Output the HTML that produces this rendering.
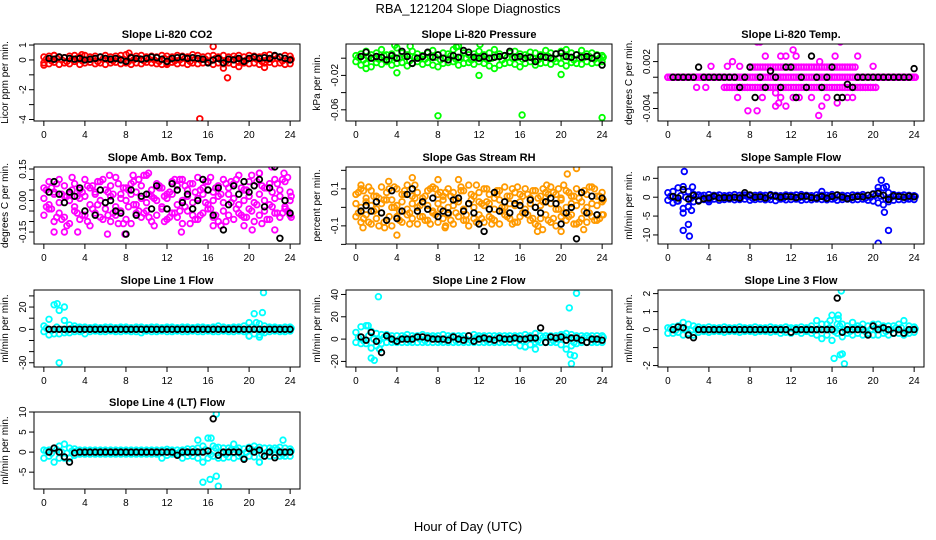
<!DOCTYPE html>
<html><head><meta charset="utf-8">
<style>
html,body{margin:0;padding:0;background:#fff;}
svg{display:block;font-family:"Liberation Sans",sans-serif;}
</style></head>
<body>
<svg id="chart" width="936" height="540" viewBox="0 0 936 540">
<text x="468" y="13" text-anchor="middle" font-size="13">RBA_121204  Slope Diagnostics</text>
<text x="468" y="531" text-anchor="middle" font-size="13">Hour of Day (UTC)</text>
<g id="panels"></g>
</svg>
<script>
const hours49=[0,0.5,1,1.5,2,2.5,3,3.5,4,4.5,5,5.5,6,6.5,7,7.5,8,8.5,9,9.5,10,10.5,11,11.5,12,12.5,13,13.5,14,14.5,15,15.5,16,16.5,17,17.5,18,18.5,19,19.5,20,20.5,21,21.5,22,22.5,23,23.5,24];
const hoursOff=[0.25,0.75,1.25,1.75,2.25,2.75,3.25,3.75,4.25,4.75,5.25,5.75,6.25,6.75,7.25,7.75,8.25,8.75,9.25,9.75,10.25,10.75,11.25,11.75,12.25,12.75,13.25,13.75,14.25,14.75,15.25,15.75,16.25,16.75,17.25,17.75,18.25,18.75,19.25,19.75,20.25,20.75,21.25,21.75,22.25,22.75,23.25,23.75,24.1];
const hoursBlack=[0.5,1,1.5,2,2.5,3,3.5,4,4.5,5,5.5,6,6.5,7,7.5,8,8.5,9,9.5,10,10.5,11,11.5,12,12.5,13,13.5,14,14.5,15,15.5,16,16.5,17,17.5,18,18.5,19,19.5,20,20.5,21,21.5,22,22.5,23,23.5,24];
const xTicks=[0,4,8,12,16,20,24];

// Panel 1 CO2
const co2A=[0.2,0.25,0.3,0.2,0.15,0.25,0.3,0.2,0.3,0.2,0.25,0.2,0.3,0.2,0.25,0.3,0.35,0.2,0.25,0.3,0.2,0.25,0.2,0.3,0.25,0.2,0.3,0.25,0.2,0.35,0.3,0.2,0.25,0.3,0.2,0.3,0.2,0.25,0.3,0.2,0.3,0.25,0.2,0.3,0.35,0.25,0.2,0.3,0.25];
const co2B=[-0.2,-0.25,-0.15,-0.3,-0.2,-0.25,-0.1,-0.3,-0.2,-0.15,-0.25,-0.2,-0.3,-0.2,-0.15,-0.25,-0.2,-0.3,-0.2,-0.25,-0.15,-0.2,-0.25,-0.3,-0.2,-0.15,-0.25,-0.2,-0.3,-0.2,-0.25,-0.2,-0.15,-0.3,-0.2,-0.25,-0.2,-0.3,-0.15,-0.2,-0.25,-0.2,-0.3,-0.2,-0.15,-0.25,-0.2,-0.3,-0.25];
const co2C=[0.05,-0.05,0.1,0,-0.1,0.05,0.1,-0.05,0,0.1,-0.1,0.05,0,-0.05,0.1,0.05,-0.1,0,0.1,-0.05,0.05,0,-0.1,0.1,0.05,-0.05,0,0.1,-0.1,0.05,0,0.05,-0.05,0.1,0,-0.1,0.05,0.1,-0.05,0,0.1,0.05,-0.1,0,0.05,0.1,-0.05,0,0.05];
const co2OutX=[0,1,3.7,8.3,12,15.2,16.5,17.5,17.9,19,21.5];
const co2OutY=[-0.35,0.3,0.35,0.45,-0.3,-3.95,0.9,-0.55,-1.2,-0.45,-0.5];
const co2K=[0.1,0.05,0.2,0.15,0.1,0.05,0.1,0.0,0.05,0.1,0.2,0.1,0.05,0.1,0.0,-0.1,0.15,0.1,0.05,0.1,0.2,0.15,0.05,-0.1,0.1,0.15,0.2,0.1,0.15,0.1,0.05,-0.2,0.0,0.1,-0.2,0.05,0.0,0.1,-0.1,0.1,0.2,0.1,0.15,0.1,0.3,0.2,0.1,0.0];
const co2Ticks=[1,0,-1,-2,-3,-4];
const co2TickLabels=["1","0","","-2","","-4"];

// Panel 2 Pressure
const presA=[0.003,0.005,0.008,0.004,0.006,0.01,0.004,0.005,0.012,0.006,0.004,0.008,0.005,0.003,0.006,0.009,0.004,0.006,0.005,0.01,0.014,0.006,0.004,0.005,0.008,0.004,0.006,0.01,0.005,0.003,0.006,0.008,0.005,0.004,0.007,0.006,0.004,0.009,0.006,0.005,0.008,0.01,0.006,0.004,0.009,0.005,0.006,0.004,0.003];
const presB=[-0.004,-0.008,-0.006,-0.01,-0.005,-0.007,-0.004,-0.008,-0.006,-0.005,-0.009,-0.006,-0.004,-0.007,-0.005,-0.008,-0.01,-0.006,-0.005,-0.004,-0.008,-0.006,-0.005,-0.007,-0.004,-0.006,-0.009,-0.012,-0.008,-0.006,-0.005,-0.007,-0.01,-0.006,-0.004,-0.008,-0.006,-0.005,-0.007,-0.004,-0.006,-0.009,-0.005,-0.006,-0.007,-0.004,-0.006,-0.005,-0.004];
const presC=[0.001,-0.002,0.002,0,-0.001,0.003,-0.002,0.001,0,0.002,-0.003,0.001,0,-0.001,0.002,0.001,-0.002,0,0.003,-0.001,0.001,0,-0.002,0.002,0.001,-0.001,0,0.002,-0.002,0.001,0,0.001,-0.001,0.002,0,-0.002,0.001,0.002,-0.001,0,0.002,0.001,-0.002,0,0.001,0.002,-0.001,0,0.001];
const presOutX=[4,8,12,16.2,20,24,1,3.8,5.3,9.8,12.1];
const presOutY=[-0.017,-0.067,-0.02,-0.066,-0.019,-0.069,-0.012,0.015,0.014,0.013,0.016];
const presK=[0.002,0.007,0.0,0.002,0.001,-0.002,0.003,0.0,0.008,0.002,-0.006,0.0,0.002,0.007,0.001,0.004,0.0,-0.002,0.003,0.001,0.009,0.007,0.001,0.0,0.002,0.0,0.001,0.002,0.003,0.008,0.001,0.002,0.0,0.001,-0.004,0.002,0.001,0.0,0.005,0.006,0.002,0.001,0.004,0.001,0.002,0.0,0.003,-0.008];
const presTicks=[0,-0.02,-0.04,-0.06];
const presTickLabels=["","-0.02","","-0.06"];

// Panel 3 Temp
const tempA=[0,0,0,0,0,0,0,0,0,0,0,0,0,0,0,0,0,0,0,0,0,0,0,0,0,0,0,0,0,0,0,0,0,0,0,0,0,0,0,0,0,0,0,0,0,0,0,0,0];
const tempB=[0,0,0,0,0,0,0,0,0,0,0,-0.0013,-0.0013,-0.0013,-0.0013,-0.0013,0.0013,0.0013,0.0013,0.0013,0.0013,0.0013,0.0013,0.0013,0.0013,0.0013,0.0013,0.0013,0.0013,0.0013,0.0013,0.0013,0.0013,0.0013,0.0013,0.0013,0.0013,-0.0013,-0.0013,-0.0013,-0.0013,0,0,0,0,0,0,0,0];
const tempC=[0,0,0,0,0,0,0,0,0,0,0,-0.0013,-0.0013,-0.0013,-0.0013,-0.0013,-0.0013,-0.0013,-0.0013,-0.0013,-0.0013,-0.0013,-0.0013,-0.0013,-0.0013,-0.0013,-0.0013,-0.0013,-0.0013,-0.0013,-0.0013,-0.0013,-0.0013,-0.0013,-0.0013,-0.0013,-0.0013,-0.0013,-0.0013,-0.0013,-0.0013,0,0,0,0,0,0,0,0];
const tempD=[0,0,0,0,0,0,0,0,0,0,0,0,0,0,0,0,0.0013,0.0013,0.0013,0.0013,0.0013,0.0013,0.0013,0.0013,0.0013,0.0013,0.0013,0.0013,0.0013,0.0013,0.0013,0.0013,0.0013,0.0013,0.0013,0.0013,0.0013,0,0,0,0,0,0,0,0,0,0,0,0];
const tempOutX=[8.7,9,16.8,12.2,9.5,11,11.5,12.5,14.8,16.3,18.5,6.3,4.2,5.8,7,20,3.7,2.8,6.8,9.2,11,12.8,14,15.5,17.5,18,10.8,12.2,7.8,8.7,10.5,11.5,14.7,15,16.5,10.5];
const tempOutY=[0.0045,0.0045,0.0045,0.0035,0.0027,0.0027,0.0027,0.0027,0.002,0.0027,0.0027,0.002,0.0014,0.0014,0.0014,0.0014,-0.0013,-0.0013,-0.0026,-0.0026,-0.0026,-0.0026,-0.0026,-0.0026,-0.0026,-0.0026,-0.0033,-0.0026,-0.0043,-0.0043,-0.0037,-0.0037,-0.0049,-0.0037,-0.0033,-0.002];
const tempK=[0,0,0,0,0,0.0013,0,0,0,0,0,0,0,-0.0013,0,0.0013,-0.0026,0,-0.0013,0.0008,0,-0.0013,0.0013,0.0013,-0.0026,0,-0.0013,0.0027,0,-0.0013,0,0.0013,-0.0026,-0.0026,-0.0009,-0.0013,0,0,0,0,0,0,0,0,0,0,0,0.0011];
const tempTicks=[0.002,0,-0.002,-0.004];
const tempTickLabels=["0.002","","","-0.004"];

// Panel 4 Amb box temp
const ambA=[0.06,0.09,0.04,0.1,0.07,0.03,0.08,0.05,0.1,0.06,0.04,0.09,0.05,0.07,0.11,0.03,0.06,0.08,0.04,0.07,0.12,0.05,0.08,0.06,0.03,0.09,0.07,0.1,0.05,0.08,0.11,0.06,0.09,0.04,0.07,0.1,0.06,0.08,0.12,0.05,0.09,0.07,0.13,0.06,0.08,0.1,0.05,0.09,0.04];
const ambB=[-0.07,-0.04,-0.1,-0.06,-0.08,-0.11,-0.05,-0.09,-0.07,-0.12,-0.06,-0.08,-0.04,-0.1,-0.07,-0.05,-0.09,-0.11,-0.06,-0.08,-0.05,-0.1,-0.07,-0.04,-0.09,-0.06,-0.08,-0.11,-0.05,-0.07,-0.09,-0.06,-0.04,-0.08,-0.1,-0.05,-0.07,-0.09,-0.06,-0.08,-0.04,-0.1,-0.07,-0.05,-0.09,-0.06,-0.08,-0.04,-0.07];
const ambC=[0.01,-0.02,0.03,-0.01,0.02,0,-0.03,0.01,0.02,-0.02,0.03,0,-0.01,0.02,-0.03,0.01,0,0.03,-0.02,0.01,-0.01,0.02,0,-0.03,0.01,0.03,-0.02,0,0.02,-0.01,0.01,0.03,-0.02,0,0.02,-0.01,0.03,0.01,-0.02,0,0.02,-0.01,0.03,0,-0.02,0.01,0.02,-0.03,0];
const ambD=[0.05,-0.04,0.08,-0.09,0.02,0.11,-0.06,0.04,-0.1,0.07,-0.02,0.1,-0.07,0.03,-0.11,0.06,-0.03,0.09,-0.05,0.12,-0.08,0.01,0.07,-0.1,0.04,-0.06,0.1,-0.03,0.08,-0.09,0.05,-0.01,0.11,-0.07,0.03,-0.1,0.09,-0.04,0.06,-0.08,0.12,-0.02,0.07,-0.09,0.04,-0.06,0.1,-0.05,0.02];
const ambE=[-0.03,0.06,-0.08,0.03,-0.12,0.05,0.02,-0.07,0.07,-0.04,0.09,-0.09,0.04,-0.06,0.08,-0.11,0.05,-0.02,0.1,-0.06,0.03,-0.12,0.06,0.02,-0.08,0.1,-0.05,0.07,-0.11,0.04,-0.07,0.09,-0.04,0.06,-0.12,0.08,-0.01,0.1,-0.07,0.05,-0.05,0.09,-0.11,0.06,-0.03,0.08,-0.06,0.11,-0.08];
const ambOutX=[22.2,21,23.4,10.2,8.7,6.4,7.9,1,2,3.3,6.2,13.4,20.3,22.5,19.5,16.5];
const ambOutY=[0.16,0.13,0.13,0.13,0.12,0.12,-0.16,-0.15,-0.15,-0.15,-0.16,-0.15,-0.14,-0.14,-0.12,-0.12];
const ambK=[0.04,0.09,0.03,-0.01,0.04,0.02,0.06,-0.05,0.18,-0.07,0.05,-0.01,0.0,-0.05,-0.06,-0.16,0.05,-0.07,0.02,0.03,-0.04,0.07,0.21,-0.04,0.08,0.05,-0.01,0.03,-0.04,0.0,0.1,0.05,-0.07,0.06,-0.14,-0.02,0.07,0.03,0.09,0.04,0.07,0.1,-0.03,0.06,0.16,-0.18,0.0,-0.06];
const ambTicks=[0.15,0.1,0.05,0,-0.05,-0.1,-0.15];
const ambTickLabels=["0.15","","","0.00","","","-0.15"];

// Panel 5 RH
const rhA=[0.07,0.1,0.05,0.09,0.06,0.11,0.08,0.04,0.1,0.07,0.12,0.06,0.08,0.05,0.09,0.11,0.07,0.06,0.1,0.08,0.05,0.09,0.12,0.06,0.08,0.1,0.07,0.05,0.09,0.11,0.06,0.08,0.07,0.1,0.05,0.09,0.06,0.08,0.11,0.07,0.05,0.09,0.06,0.1,0.08,0.07,0.11,0.06,0.08];
const rhB=[-0.05,-0.08,-0.04,-0.09,-0.06,-0.03,-0.07,-0.1,-0.05,-0.08,-0.04,-0.06,-0.09,-0.05,-0.07,-0.03,-0.08,-0.06,-0.04,-0.09,-0.05,-0.07,-0.1,-0.06,-0.04,-0.08,-0.05,-0.07,-0.09,-0.04,-0.06,-0.08,-0.05,-0.03,-0.07,-0.09,-0.06,-0.04,-0.08,-0.1,-0.05,-0.07,-0.04,-0.09,-0.06,-0.08,-0.05,-0.07,-0.04];
const rhC=[0.02,0,0.03,0.01,-0.01,0.02,0.04,0,0.01,0.03,-0.01,0.02,0,0.03,0.01,-0.02,0.02,0.04,0,0.01,0.03,-0.01,0.02,0,0.03,0.01,0.02,-0.01,0.04,0,0.02,0.01,0.03,-0.01,0.02,0,0.01,0.03,0.02,-0.01,0.04,0,0.02,0.01,0.03,0,0.02,0.01,0.03];
const rhD=[0.08,-0.06,0.11,-0.02,0.05,-0.08,0.1,0.0,-0.07,0.09,-0.03,0.12,-0.05,0.06,-0.09,0.1,-0.01,0.08,-0.07,0.04,0.11,-0.04,0.07,-0.08,0.02,0.1,-0.06,0.09,-0.02,0.06,-0.09,0.11,-0.03,0.07,-0.06,0.05,0.1,-0.07,0.08,-0.01,0.12,-0.05,0.06,-0.08,0.09,-0.03,0.1,-0.06,0.04];
const rhE=[-0.03,0.09,-0.08,0.06,-0.1,0.04,-0.05,0.11,-0.02,0.07,-0.09,0.05,0.01,-0.07,0.1,-0.04,0.08,-0.1,0.06,-0.03,0.09,-0.07,0.04,0.12,-0.06,0.03,-0.09,0.07,0.0,-0.05,0.1,-0.08,0.06,-0.04,0.09,-0.1,0.03,0.07,-0.06,0.1,-0.03,0.08,-0.09,0.05,-0.02,0.11,-0.07,0.06,-0.04];
const rhOutX=[0.5,3.2,5.5,8,10,21.5,20.6,18.6,4,0.7,2.8,8.7,17.7,18.2,20,22.2];
const rhOutY=[0.12,0.14,0.16,0.15,0.15,0.21,0.18,0.12,-0.15,-0.11,-0.11,-0.11,-0.13,-0.12,-0.13,-0.12];
const rhK=[-0.02,0.01,-0.02,0.03,-0.03,-0.07,0.09,-0.06,-0.02,0.07,0.1,-0.02,0.03,-0.01,0.05,-0.05,-0.02,-0.03,0.04,0.05,-0.02,0.02,-0.03,-0.09,-0.13,-0.01,0.08,-0.02,0.03,-0.03,0.02,0.01,-0.03,0.04,0.0,-0.03,0.03,0.05,0.02,-0.09,-0.03,0.0,-0.17,0.08,-0.03,0.06,-0.04,0.05];
const rhTicks=[0.2,0.1,0,-0.1,-0.2];
const rhTickLabels=["","0.1","","-0.1",""];

// Panel 6 Sample flow
const sfA=[1.2,1.5,2.5,2.8,1.5,0.8,0.6,0.5,0.7,0.5,0.6,0.4,0.5,0.7,0.5,0.6,0.4,0.5,0.6,0.5,0.7,0.5,0.4,0.6,0.5,0.6,0.7,0.5,0.4,0.6,0.5,0.5,0.7,0.6,0.5,0.4,0.6,0.5,0.7,0.5,0.9,1.5,2.5,1.2,0.7,0.5,0.6,0.5,0.4];
const sfB=[-0.8,-1.5,-1,-3,-2.5,-1.2,-0.8,-0.6,-0.7,-0.5,-0.8,-0.6,-0.5,-0.7,-0.6,-0.5,-0.8,-0.6,-0.5,-0.7,-0.6,-0.9,-0.5,-0.7,-0.6,-0.5,-0.8,-0.6,-0.7,-0.5,-0.6,-0.7,-0.5,-0.8,-0.6,-0.5,-0.7,-0.6,-0.5,-0.8,-1,-1.5,-2,-1.2,-0.8,-0.6,-0.7,-0.5,-0.6];
const sfC=[0.2,-0.2,0.4,0,-0.3,0.2,0.3,-0.2,0,0.3,-0.3,0.2,0,-0.2,0.3,0.2,-0.3,0,0.3,-0.2,0.2,0,-0.3,0.3,0.2,-0.2,0,0.3,-0.3,0.2,0,0.2,-0.2,0.3,0,-0.3,0.2,0.3,-0.2,0,0.5,0.3,-0.5,0,0.2,0.3,-0.2,0,0.2];
const sfOutX=[1.5,2,2.1,1.6,1.5,2,2.3,2.4,0.9,20.5,21.5,20.8,20.5,21.3,21.1,15,4];
const sfOutY=[-8.8,-7.2,-10.3,6.8,-4.2,-2.5,-3.5,2.7,-1,-12.2,-8.8,4.5,2.6,2.8,-4,1.5,-1.2];
const sfK=[0.2,-0.2,2,-0.5,0.5,-1,-0.4,-0.2,0.3,-0.2,-0.1,-0.2,0,-0.2,1.2,0.6,0,0.1,-0.2,0.5,0.3,0,0.2,0.1,-0.1,0.2,0.3,-0.1,-0.2,0.2,-0.3,0.2,0.6,0,-0.4,0,0.2,0.1,0.5,0.8,1,0.5,-0.6,0.4,0.2,0,0.3,0.1];
const sfTicks=[5,0,-5,-10];
const sfTickLabels=["5","0","-5","-10"];

// Panel 7 Line 1
const l1A=[3,9,22,17,8,4,3,2,2,1.5,2,1.5,2,2,1.5,2,2,1.5,2,2,1.5,2,2,1.5,2,2,1.5,2,2,1.5,2,2,1.5,2,3,2,1.5,2,2,3,6,14,5,3,2,2,1.5,2,2];
const l1B=[-2,-5,-4,-4,-3,-3,-2,-2,-4,-2,-1.5,-2,-2,-1.5,-2,-2,-1.5,-2,-2,-3,-1.5,-2,-2,-1.5,-2,-2,-1.5,-2,-2,-1.5,-2,-2,-1.5,-2,-2,-1.5,-2,-2,-1.5,-2,-6,-4,-5,-3,-2,-1.5,-2,-2,-1.5];
const l1C=[1,-1,2,0,-1,1,1,-1,0,1,-1,1,0,-1,1,1,-1,0,1,-1,1,0,-1,1,1,-1,0,1,-1,1,0,1,-1,1,0,-1,1,1,-1,0,2,1,-2,0,1,1,-1,0,1];
const l1OutX=[1.5,1.3,2.0,21.4,21.3,20.7,20,21];
const l1OutY=[-30,23,20,33,15,6,-6,-7];
const l1K=[0,0,0,0,0,0,0,0,0,0,0,0,0,0,0,0,0,0,0,0,0,0,0,0,0,0,0,0,0,0,0,0,0,0,0,0,0,0,0,0,0,0,0,0,0,0,0,0];
const l1Ticks=[30,20,10,0,-10,-20,-30];
const l1TickLabels=["","20","","0","","","-30"];

// Panel 8 Line 2
const l2A=[6,11,12,7,5,4,4,3,3,3,4,3,3,4,3,3,3,4,3,3,3,3,3,4,3,3,3,3,3,3,3,3,3,4,3,5,3,3,3,3,4,5,4,3,3,3,3,3,3];
const l2B=[-3,-4,-4,-8,-6,-4,-3,-3,-3,-3,-3,-3,-3,-3,-3,-3,-3,-3,-3,-3,-3,-3,-3,-3,-3,-3,-3,-3,-3,-3,-3,-3,-6,-7,-5,-3,-3,-3,-3,-3,-5,-9,-6,-4,-3,-3,-3,-3,-3];
const l2C=[1.5,-1.5,3,0,-1.5,1.5,1.5,-1.5,0,1.5,-1.5,1.5,0,-1.5,1.5,1.5,-1.5,0,1.5,-1.5,1.5,0,-1.5,1.5,1.5,-1.5,0,1.5,-1.5,1.5,0,1.5,-1.5,1.5,0,-1.5,1.5,1.5,-1.5,0,3,1.5,-3,0,1.5,1.5,-1.5,0,1.5];
const l2OutX=[2.2,1.5,1.8,20.8,21.5,20.9,21.3,21,2.3,16.5,17.5,1.2];
const l2OutY=[38,-17,-19,28,41,-14,-15,-22,-9,-7,-9,12];
const l2K=[2,-1,6,-2,-12,3,0,-2,0,0,0,2,2,1,0,0,0,-1,2,0,-1,3,-2,0,1,0,-1,1,0,0,1,0,0,1,1,10,-3,2,1,2,-1,1,1,-1,-3,0,0,-1];
const l2Ticks=[40,20,0,-20];
const l2TickLabels=["40","20","0","-20"];

// Panel 9 Line 3
const l3A=[0.1,0.15,0.2,0.4,0.3,0.2,0.15,0.1,0.15,0.1,0.1,0.15,0.1,0.1,0.15,0.1,0.1,0.15,0.1,0.1,0.15,0.1,0.1,0.15,0.1,0.1,0.15,0.1,0.2,0.5,0.3,0.3,0.8,0.3,0.3,0.2,0.4,0.2,0.3,0.2,0.3,0.3,0.2,0.2,0.2,0.3,0.5,0.2,0.15];
const l3B=[-0.2,-0.2,-0.15,-0.3,-0.2,-0.3,-0.15,-0.1,-0.15,-0.1,-0.1,-0.15,-0.1,-0.1,-0.15,-0.1,-0.1,-0.15,-0.1,-0.1,-0.15,-0.1,-0.2,-0.15,-0.2,-0.1,-0.2,-0.1,-0.2,-0.3,-0.5,-0.3,-0.6,-0.2,-0.4,-0.2,-0.3,-0.2,-0.3,-0.2,-0.3,-0.3,-0.2,-0.3,-0.2,-0.2,-0.3,-0.2,-0.15];
const l3C=[0.05,-0.05,0.1,0,-0.05,0.05,0.05,-0.05,0,0.05,-0.05,0.05,0,-0.05,0.05,0.05,-0.05,0,0.05,-0.05,0.05,0,-0.05,0.05,0.05,-0.05,0,0.05,-0.05,0.05,0,0.1,-0.1,0.2,0,-0.1,0.1,0.1,-0.1,0,0.1,0.1,-0.1,0,0.1,0.1,-0.1,0,0.05];
const l3OutX=[16.2,16.8,17,17.2,16.9,16.6,16.6,15.8];
const l3OutY=[-1.6,-1.4,-1.35,-1.9,2.15,0.6,0.8,0.5];
const l3K=[0,0.15,0.1,-0.3,-0.45,0,0,0,0,0,0,0,0,0,0,0,0,0,0,0,0,0,0,-0.15,0,0,0,0,0,0,0,0,1.75,-0.15,0,0,0,0,-0.3,0.2,0,0.1,0,-0.2,0,-0.2,0,0];
const l3Ticks=[2,1,0,-1,-2];
const l3TickLabels=["2","1","0","","-2"];

// Panel 10 Line 4
const l4A=[0.5,0.5,1,1.5,2,1,0.8,0.5,0.5,0.5,0.5,0.5,0.5,0.5,0.5,0.5,0.5,0.5,0.5,0.5,0.5,0.5,0.5,0.5,0.7,0.5,0.5,0.5,0.8,0.8,1,1.5,3.5,1.5,1.2,1,1,2,1,0.8,1.2,1.5,1.2,1,1,1,1.2,1,0.8];
const l4B=[-1.5,-1,-2.5,-1.5,-1.5,-1.5,-0.8,-0.5,-0.5,-0.5,-0.5,-0.5,-0.5,-0.5,-0.5,-0.5,-0.5,-0.5,-0.5,-0.5,-0.5,-0.5,-0.5,-1.5,-0.8,-0.5,-0.5,-1.5,-1,-1,-1.5,-2.5,-1.5,-1,-1.5,-1.5,-1.2,-1.5,-1,-1.5,-1,-1.2,-2.5,-1,-1,-0.8,-1,-1,-1];
const l4C=[0.3,-0.3,0.6,0,-0.3,0.3,0.3,-0.3,0,0.3,-0.3,0.3,0,-0.3,0.3,0.3,-0.3,0,0.3,-0.3,0.3,0,-0.3,0.3,0.3,-0.3,0,0.3,-0.3,0.3,0,0.6,-0.6,1,0,-0.6,0.6,0.6,-0.6,0,0.6,0.6,-0.6,0,0.6,0.6,-0.6,0,0.3];
const l4OutX=[15.5,16.2,16.8,17,16.8,15,16.3,23.3,21];
const l4OutY=[-7.5,-6.8,-6,-8.5,9.5,3,3.5,3,-2.5];
const l4K=[0,1,0,-1.2,-2.5,-0.2,0,0,0,0,0,0,0,0,0,0,0,0,0,0,0,0,0,0,0,-0.8,0,0,0,0,0,0.3,8.3,-0.8,0,0,0,0,-1.8,0.9,0,0.5,-1,0,-1.4,0,0,0];
const l4Ticks=[10,5,0,-5];
const l4TickLabels=["10","5","0","-5"];

const panels=[
 {name:"co2",title:"Slope Li-820 CO2",ylab:"Licor ppm per min.",col:0,row:0,ymin:-4.1,ymax:1.07,color:"#ff0000",series:[co2A,co2C,co2B],ox:co2OutX,oy:co2OutY,k:co2K,ticks:co2Ticks,labels:co2TickLabels},
 {name:"pressure",title:"Slope Li-820 Pressure",ylab:"kPa per min.",col:1,row:0,ymin:-0.073,ymax:0.0165,color:"#00ff00",series:[presA,presC,presB],ox:presOutX,oy:presOutY,k:presK,ticks:presTicks,labels:presTickLabels},
 {name:"temp",title:"Slope Li-820 Temp.",ylab:"degrees C per min.",col:2,row:0,ymin:-0.0056,ymax:0.00425,color:"#ff00ff",series:[tempA,tempA,tempC,tempC,tempD,tempB],ox:tempOutX,oy:tempOutY,k:tempK,ticks:tempTicks,labels:tempTickLabels},
 {name:"amb-box-temp",title:"Slope Amb. Box Temp.",ylab:"degrees C per min.",col:0,row:1,ymin:-0.207,ymax:0.1595,color:"#ff00ff",series:[ambA,ambD,ambB,ambE,ambC],ox:ambOutX,oy:ambOutY,k:ambK,ticks:ambTicks,labels:ambTickLabels},
 {name:"gas-stream-rh",title:"Slope Gas Stream RH",ylab:"percent per min.",col:1,row:1,ymin:-0.198,ymax:0.218,color:"#ff9a00",series:[rhA,rhD,rhB,rhE,rhC],ox:rhOutX,oy:rhOutY,k:rhK,ticks:rhTicks,labels:rhTickLabels},
 {name:"sample-flow",title:"Slope Sample Flow",ylab:"ml/min per min.",col:2,row:1,ymin:-12.4,ymax:8.0,color:"#0000ff",series:[sfA,sfC,sfB],ox:sfOutX,oy:sfOutY,k:sfK,ticks:sfTicks,labels:sfTickLabels},
 {name:"line1-flow",title:"Slope Line 1 Flow",ylab:"ml/min per min.",col:0,row:2,ymin:-33.8,ymax:35.3,color:"#00ffff",series:[l1A,l1C,l1B],ox:l1OutX,oy:l1OutY,k:l1K,ticks:l1Ticks,labels:l1TickLabels},
 {name:"line2-flow",title:"Slope Line 2 Flow",ylab:"ml/min per min.",col:1,row:2,ymin:-25,ymax:44,color:"#00ffff",series:[l2A,l2C,l2B],ox:l2OutX,oy:l2OutY,k:l2K,ticks:l2Ticks,labels:l2TickLabels},
 {name:"line3-flow",title:"Slope Line 3 Flow",ylab:"ml/min per min.",col:2,row:2,ymin:-2.08,ymax:2.2,color:"#00ffff",series:[l3A,l3C,l3B],ox:l3OutX,oy:l3OutY,k:l3K,ticks:l3Ticks,labels:l3TickLabels},
 {name:"line4-flow",title:"Slope Line 4 (LT) Flow",ylab:"ml/min per min.",col:0,row:3,ymin:-9.2,ymax:10,color:"#00ffff",series:[l4A,l4C,l4B],ox:l4OutX,oy:l4OutY,k:l4K,ticks:l4Ticks,labels:l4TickLabels}
];

const NS="http://www.w3.org/2000/svg";
const colL=[34,346,658], rowT=[44,167,290,412], W=266, H=77;
const root=document.getElementById('panels');
function mk(tag,attrs,parent){const e=document.createElementNS(NS,tag);for(const k in attrs)e.setAttribute(k,attrs[k]);parent.appendChild(e);return e;}

panels.forEach(p=>{
  const L=colL[p.col], T=rowT[p.row];
  const xs=h=>L+(h+0.96)/25.92*W;
  const ys=v=>T+H-(v-p.ymin)/(p.ymax-p.ymin)*H;
  const g=mk('g',{},root);
  
  
  const t=mk('text',{x:L+W/2,y:T-6,'text-anchor':'middle','font-size':11,'font-weight':'bold'},g);
  t.textContent=p.title;
  
  
  const yl=mk('text',{transform:`translate(${L-26},${T+H/2}) rotate(-90)`,'text-anchor':'middle','font-size':10},g);
  yl.textContent=p.ylab;
  
  
  const cid='clip-'+p.name;
  const cp=mk('clipPath',{id:cid},g);
  mk('rect',{x:L,y:T,width:W,height:H},cp);
  const pts=mk('g',{'clip-path':`url(#${cid})`},g);
  function dot(h,v,col,nm){
    const c=mk('circle',{cx:xs(h).toFixed(1),cy:ys(v).toFixed(1),r:2.8,fill:'none',stroke:col,'stroke-width':1.8},pts);
    
    
  }
  p.series.forEach((s,si)=>{
    const hx = si%2===0 ? hours49 : hoursOff;
    s.forEach((v,i)=>dot(hx[i],v,p.color,p.name+'-point'));
  });
  p.ox.forEach((h,i)=>dot(h,p.oy[i],p.color,p.name+'-outlier'));
  p.k.forEach((v,i)=>dot(hoursBlack[i],v,'#000000',p.name+'-mean-point'));
  const box=mk('rect',{x:L,y:T,width:W,height:H,fill:'none',stroke:'#000','stroke-width':1},g);
  
  
  xTicks.forEach(h=>{
    const x=xs(h);
    mk('line',{x1:x,y1:T+H,x2:x,y2:T+H+5,stroke:'#000'},g);
    const tl=mk('text',{x:x,y:T+H+17,'text-anchor':'middle','font-size':10},g);
    tl.textContent=h;
    
    
  });
  p.ticks.forEach((v,i)=>{
    const y=ys(v);
    mk('line',{x1:L-5,y1:y,x2:L,y2:y,stroke:'#000'},g);
    if(p.labels[i]){
      const tl=mk('text',{transform:`translate(${L-8},${y}) rotate(-90)`,'text-anchor':'middle','font-size':10},g);
      tl.textContent=p.labels[i];
      
      
    }
  });
});
</script>
</body></html>
